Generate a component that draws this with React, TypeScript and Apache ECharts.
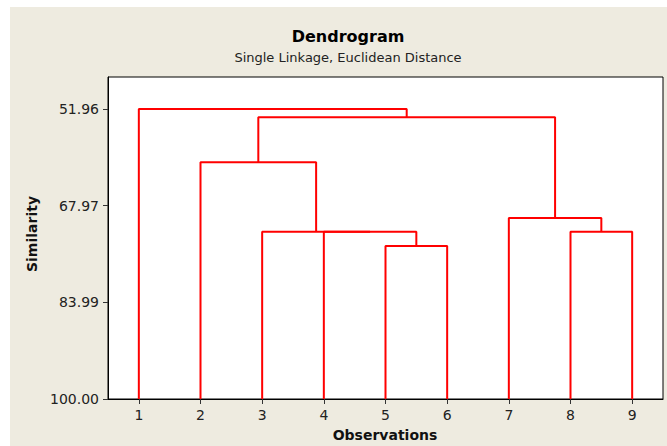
import { useEffect, useRef } from "react";
import * as echarts from "echarts";

// Observations (leaves) in display order
const observations = [1, 2, 3, 4, 5, 6, 7, 8, 9];
// Merge steps: node ids 1..9 are leaves, merge k creates node 10+k
const leftNode = [5, 8, 4, 3, 7, 2, 15, 1];
const rightNode = [6, 9, 10, 12, 11, 13, 14, 16];
const similarity = [74.66, 72.3, 72.3, 72.3, 70.02, 60.8, 53.34, 51.96];
const yTicks = [51.96, 67.97, 83.99, 100.0];
const yMin = 46.66;
const yMax = 100;

const FONT = "DejaVu Sans";
const RED = "#FF0000";

export default function App() {
  const ref = useRef<HTMLDivElement>(null);

  useEffect(() => {
    document.body.style.margin = "0";
    if (!ref.current) return;
    const chart = echarts.init(ref.current, undefined, { renderer: "svg" });

    const pos: Record<number, number> = {};
    const hgt: Record<number, number> = {};
    observations.forEach((o) => {
      pos[o] = o;
      hgt[o] = yMax;
    });
    const series: any[] = [];
    leftNode.forEach((l, k) => {
      const r = rightNode[k];
      const h = similarity[k];
      const id = 10 + k;
      series.push({
        type: "line",
        symbol: "none",
        silent: true,
        lineStyle: { color: RED, width: 2 },
        data: [
          [pos[l], hgt[l]],
          [pos[l], h],
          [pos[r], h],
          [pos[r], hgt[r]],
        ],
        z: 5,
      });
      pos[id] = (pos[l] + pos[r]) / 2;
      hgt[id] = h;
    });

    chart.setOption({
      animation: false,
      backgroundColor: "transparent",
      grid: {
        left: 108,
        top: 77,
        right: 4,
        bottom: 47,
        show: true,
        backgroundColor: "#ffffff",
        borderColor: "#000000",
        borderWidth: 1,
      },
      xAxis: {
        type: "value",
        min: 0.5,
        max: 9.5,
        splitLine: { show: false },
        axisLine: { show: true, lineStyle: { color: "#000", width: 1 } },
        axisTick: {
          show: true,
          length: 5,
          customValues: observations,
          lineStyle: { color: "#333" },
        },
        axisLabel: {
          customValues: observations,
          formatter: (v: number) => String(Math.round(v)),
          fontFamily: FONT,
          fontSize: 14,
          color: "#222",
          margin: 9,
        },
      },
      yAxis: {
        type: "value",
        inverse: true,
        min: yMin,
        max: yMax,
        splitLine: { show: false },
        axisLine: { show: true, lineStyle: { color: "#000", width: 1 } },
        axisTick: {
          show: true,
          length: 5,
          customValues: yTicks,
          lineStyle: { color: "#333" },
        },
        axisLabel: {
          customValues: yTicks,
          formatter: (v: number) => v.toFixed(2),
          fontFamily: FONT,
          fontSize: 14,
          color: "#222",
          margin: 9,
        },
      },
      graphic: [
        {
          type: "text",
          x: 348,
          y: 36,
          style: {
            text: "Dendrogram",
            font: `bold 16px "${FONT}"`,
            fill: "#000",
            align: "center",
            verticalAlign: "middle",
          },
        },
        {
          type: "text",
          x: 348,
          y: 57,
          style: {
            text: "Single Linkage, Euclidean Distance",
            font: `13px "${FONT}"`,
            fill: "#222",
            align: "center",
            verticalAlign: "middle",
          },
        },
        {
          type: "text",
          x: 385,
          y: 435,
          style: {
            text: "Observations",
            font: `bold 14px "${FONT}"`,
            fill: "#111",
            align: "center",
            verticalAlign: "middle",
          },
        },
        {
          type: "text",
          x: 32,
          y: 234,
          rotation: Math.PI / 2,
          style: {
            text: "Similarity",
            font: `bold 14px "${FONT}"`,
            fill: "#111",
            align: "center",
            verticalAlign: "middle",
          },
        },
      ],
      series,
    });

    return () => chart.dispose();
  }, []);

  return (
    <div
      ref={ref}
      style={{
        width: 667,
        height: 446,
        background:
          "linear-gradient(#EEEBE0, #EEEBE0) 10px 7px / 657px 439px no-repeat, #ffffff",
      }}
    />
  );
}
